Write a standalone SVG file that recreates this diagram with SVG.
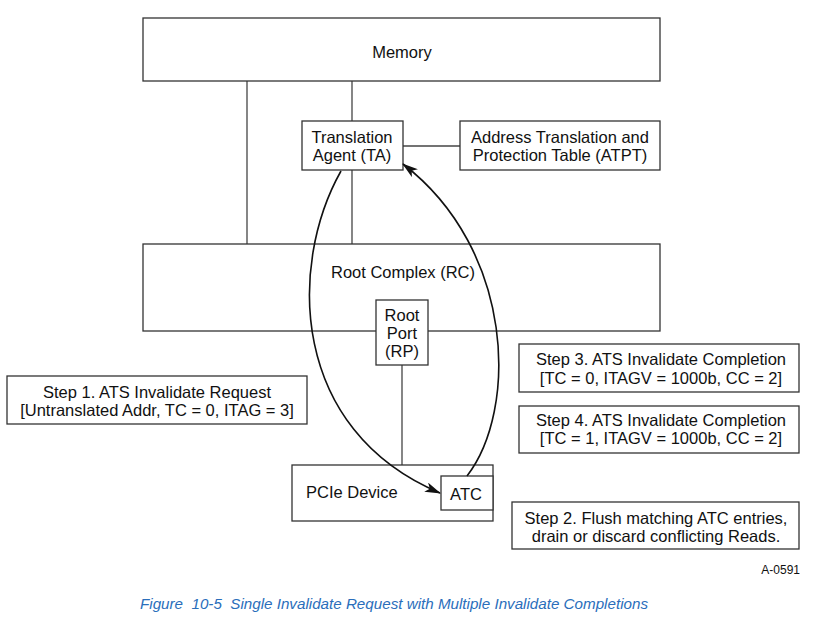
<svg xmlns="http://www.w3.org/2000/svg" width="823" height="631" viewBox="0 0 823 631">
<style>
.box{fill:#fff;stroke:#333;stroke-width:1.3}
.ln{fill:none;stroke:#444;stroke-width:1.3}
.arc{fill:none;stroke:#111;stroke-width:1.6}
text{font-family:"Liberation Sans",Arial,sans-serif;font-size:16.5px;fill:#111}
.c{text-anchor:middle}
.cap{font-style:italic;font-size:14px;fill:#2a6ebb;white-space:pre}
</style>
<defs>
<marker id="ah" viewBox="0 0 16 10" refX="15" refY="5" markerWidth="16" markerHeight="10" markerUnits="userSpaceOnUse" orient="auto">
<path d="M0,0 L16,5 L0,10 L4,5 Z" fill="#111"/>
</marker>
</defs>
<rect width="823" height="631" fill="#fff"/>
<g id="connectors">
<line class="ln" x1="247" y1="81" x2="247" y2="244"/>
<line class="ln" x1="352" y1="81" x2="352" y2="121"/>
<line class="ln" x1="352" y1="170" x2="352" y2="244"/>
<line class="ln" x1="403" y1="146" x2="460" y2="146"/>
<line class="ln" x1="402" y1="365" x2="402" y2="465"/>
</g>
<g id="memory"><rect class="box" x="143" y="18" width="517" height="63"/><text class="c" x="402" y="58">Memory</text></g>
<g id="ta"><rect class="box" x="302" y="121" width="101" height="49"/><text class="c" x="352" y="143">Translation</text><text class="c" x="352" y="161">Agent (TA)</text></g>
<g id="atpt"><rect class="box" x="460" y="121" width="200" height="49"/><text class="c" x="560" y="143">Address Translation and</text><text class="c" x="560" y="161">Protection Table (ATPT)</text></g>
<g id="rc"><rect class="box" x="143" y="244" width="517" height="87"/><text class="c" x="403" y="278">Root Complex (RC)</text></g>
<g id="rp"><rect class="box" x="376" y="300" width="52" height="65"/><text class="c" x="402" y="321">Root</text><text class="c" x="402" y="339">Port</text><text class="c" x="402" y="357">(RP)</text></g>
<g id="pcie"><rect class="box" x="292" y="465" width="201" height="56"/><text x="306" y="498">PCIe Device</text></g>
<g id="atc"><rect class="box" x="441" y="476" width="52" height="34"/><text class="c" x="466" y="500">ATC</text></g>
<g id="step1"><rect class="box" x="7" y="376" width="300" height="48"/><text class="c" x="157" y="398">Step 1. ATS Invalidate Request</text><text class="c" x="157" y="416">[Untranslated Addr, TC = 0, ITAG = 3]</text></g>
<g id="step3"><rect class="box" x="519" y="344" width="280" height="48"/><text class="c" x="661" y="365">Step 3. ATS Invalidate Completion</text><text class="c" x="661" y="384">[TC = 0, ITAGV = 1000b, CC = 2]</text></g>
<g id="step4"><rect class="box" x="519" y="406" width="280" height="47"/><text class="c" x="661" y="426">Step 4. ATS Invalidate Completion</text><text class="c" x="661" y="444">[TC = 1, ITAGV = 1000b, CC = 2]</text></g>
<g id="step2"><rect class="box" x="512" y="502" width="287" height="47"/><text class="c" x="656" y="524">Step 2. Flush matching ATC entries,</text><text class="c" x="656" y="542">drain or discard conflicting Reads.</text></g>
<g id="arrows">
<path class="arc" d="M341,171 C288,265 290,430 440,493" marker-end="url(#ah)"/>
<path class="arc" d="M467,476 C518,410 515,250 403,164" marker-end="url(#ah)"/>
</g>
<text x="800" y="574" text-anchor="end" style="font-size:12px">A-0591</text>
<text class="cap" x="140" y="609" textLength="508" lengthAdjust="spacingAndGlyphs">Figure  10-5  Single Invalidate Request with Multiple Invalidate Completions</text>
</svg>
